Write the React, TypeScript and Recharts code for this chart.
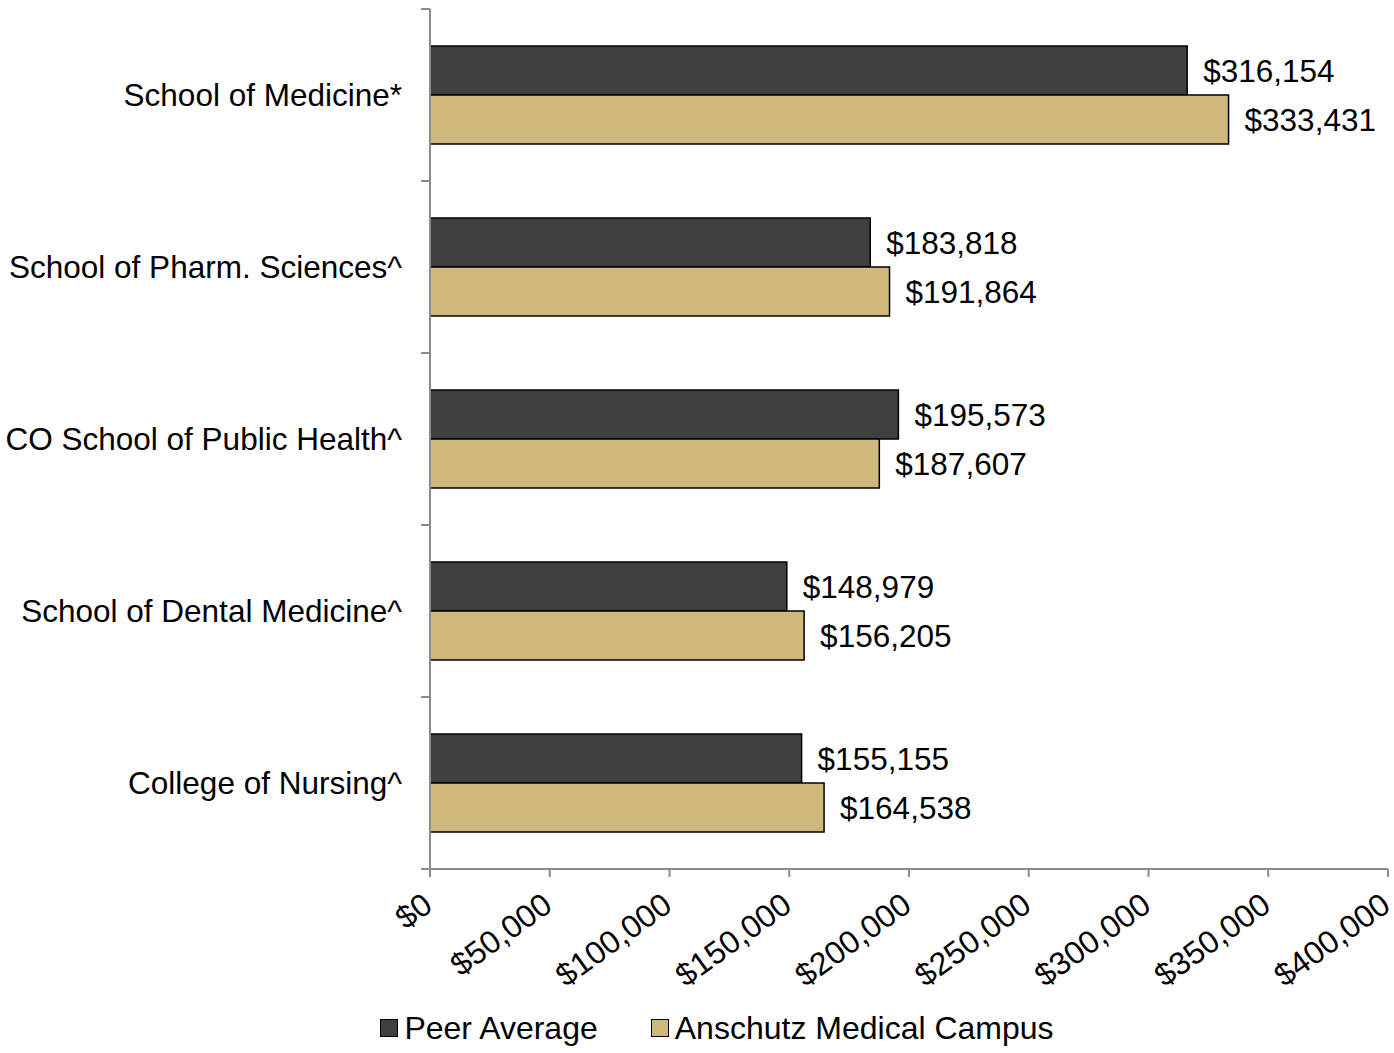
import { BarChart, Bar, XAxis, YAxis, LabelList, Legend } from "recharts";

const schools = [
  "School of Medicine*",
  "School of Pharm. Sciences^",
  "CO School of Public Health^",
  "School of Dental Medicine^",
  "College of Nursing^",
];
const peerAverage = [316154, 183818, 195573, 148979, 155155];
const anschutz = [333431, 191864, 187607, 156205, 164538];
const seriesNames = ["Peer Average", "Anschutz Medical Campus"];
const xTicks = [0, 50000, 100000, 150000, 200000, 250000, 300000, 350000, 400000];

const PEER = "#3f3f3f";
const GOLD = "#cfb87c";
const AXIS = "#8c8c8c";
const FONT = "'Liberation Sans', Arial, sans-serif";
const Y_TICK_GAP = 28;
const Y_TICK_LEN = 9;

const data = schools.map((name, i) => ({
  name,
  peer: peerAverage[i],
  amc: anschutz[i],
}));

const money = (v: number) => "$" + Number(v).toLocaleString("en-US");

function XTick({ x, y, payload }: any) {
  const ax = x - 6;
  return (
    <text
      x={ax}
      y={y}
      dy="0.55em"
      textAnchor="end"
      fontSize={32}
      fill="#000"
      transform={`rotate(-36, ${ax}, ${y})`}
    >
      {money(payload.value)}
    </text>
  );
}

// category label plus tick marks at the band edges (Excel style)
function YTick({ x, y, payload, index, visibleTicksCount }: any) {
  const half = payload.offset || 86;
  const lineX = x + Y_TICK_GAP;
  const top = payload.coordinate - half;
  const bottom = payload.coordinate + half;
  return (
    <g>
      <line x1={lineX - Y_TICK_LEN} x2={lineX} y1={top} y2={top} stroke={AXIS} strokeWidth={2} />
      {index === visibleTicksCount - 1 && (
        <line x1={lineX - Y_TICK_LEN} x2={lineX} y1={bottom} y2={bottom} stroke={AXIS} strokeWidth={2} />
      )}
      <text x={x} y={y} dy="0.355em" textAnchor="end" fontSize={31.5} fill="#000">
        {payload.value}
      </text>
    </g>
  );
}

function LegendBox({ payload }: any) {
  const items = [...(payload || [])].sort(
    (a: any, b: any) => seriesNames.indexOf(a.value) - seriesNames.indexOf(b.value)
  );
  return (
    <div
      style={{
        display: "flex",
        justifyContent: "center",
        alignItems: "center",
        gap: 53,
        paddingLeft: 46,
        fontSize: 32,
        color: "#000",
        height: 50,
      }}
    >
      {items.map((p: any) => (
        <span key={p.value} style={{ display: "flex", alignItems: "center" }}>
          <span
            style={{
              width: 16,
              height: 16,
              background: p.color,
              border: "1px solid #000",
              marginRight: 6,
            }}
          />
          {p.value}
        </span>
      ))}
    </div>
  );
}

export default function App() {
  return (
    <div
      style={{
        position: "absolute",
        left: 0,
        top: 0,
        fontFamily: FONT,
        background: "#fff",
      }}
    >
      <BarChart
        width={1394}
        height={1053}
        data={data}
        layout="vertical"
        margin={{ top: 9, right: 6, left: 0, bottom: 0 }}
        barCategoryGap={37}
        barGap={0}
      >
        <XAxis
          type="number"
          domain={[0, 400000]}
          ticks={xTicks}
          interval={0}
          stroke={AXIS}
          strokeWidth={2}
          tickSize={8}
          tickMargin={18}
          tick={<XTick />}
          height={134}
        />
        <YAxis
          type="category"
          dataKey="name"
          width={430}
          stroke={AXIS}
          strokeWidth={2}
          tickLine={false}
          tickSize={0}
          tickMargin={Y_TICK_GAP}
          interval={0}
          tick={<YTick />}
        />
        <Legend verticalAlign="bottom" height={50} content={<LegendBox />} />
        <Bar
          dataKey="peer"
          name={seriesNames[0]}
          fill={PEER}
          stroke="#000"
          strokeWidth={1.5}
          isAnimationActive={false}
        >
          <LabelList
            dataKey="peer"
            position="right"
            offset={16}
            formatter={(v: any) => money(v)}
            style={{ fontSize: 31.5, fill: "#000", fontFamily: FONT }}
          />
        </Bar>
        <Bar
          dataKey="amc"
          name={seriesNames[1]}
          fill={GOLD}
          stroke="#000"
          strokeWidth={1.5}
          isAnimationActive={false}
        >
          <LabelList
            dataKey="amc"
            position="right"
            offset={16}
            formatter={(v: any) => money(v)}
            style={{ fontSize: 31.5, fill: "#000", fontFamily: FONT }}
          />
        </Bar>
      </BarChart>
    </div>
  );
}
